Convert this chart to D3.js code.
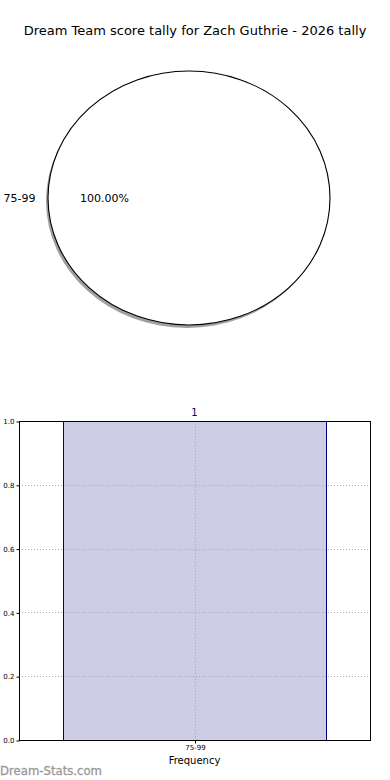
<!DOCTYPE html>
<html>
<head>
<meta charset="utf-8">
<script src="https://cdn.jsdelivr.net/npm/d3@7"></script>
<style>
  body { margin: 0; background: #fff; }
  svg { display: block; font-family: "DejaVu Sans", sans-serif; }
</style>
</head>
<body>
<div id="chart"></div>
<script>
var title = "Dream Team score tally for Zach Guthrie - 2026 tally";
var categories = ["75-99"];
var counts = [1];
var yTicks = [0.0, 0.2, 0.4, 0.6, 0.8, 1.0];

var width = 390, height = 780;
var svg = d3.select("#chart").append("svg")
    .attr("width", width)
    .attr("height", height);

svg.append("text")
    .attr("x", 195)
    .attr("y", 35)
    .attr("text-anchor", "middle")
    .attr("font-size", 13)
    .attr("fill", "#000")
    .text(title);

// pie (stretched into an ellipse), wedges start at 3 o'clock going counterclockwise
var total = d3.sum(counts);
var pie = d3.pie().sort(null)(counts);
var arc = d3.arc().innerRadius(0).outerRadius(1);
var cx = 189, cy = 198, rx = 141, ry = 127;

var shadow = svg.append("g")
    .attr("transform", "translate(" + (cx - 2) + "," + (cy + 3) + ")");
shadow.selectAll("path").data(pie).enter().append("path")
    .attr("d", arc)
    .attr("transform", "scale(" + rx + "," + ry + ")")
    .attr("fill", "#888")
    .attr("opacity", 0.8);

var pg = svg.append("g")
    .attr("transform", "translate(" + cx + "," + cy + ")");
pg.selectAll("path").data(pie).enter().append("path")
    .attr("d", arc)
    .attr("transform", "scale(" + rx + "," + ry + ")")
    .attr("fill", "#fff")
    .attr("stroke", "#000")
    .attr("stroke-width", 1 / ry);

pie.forEach(function(d, i) {
    // matplotlib angle convention: 0 at right, counterclockwise
    var mid = (d.startAngle + d.endAngle) / 2;
    var cosA = Math.cos(mid), sinA = Math.sin(mid);
    svg.append("text")
        .attr("x", cx + cosA * rx * 1.1 + 1.5)
        .attr("y", cy - sinA * ry * 1.1 + 4)
        .attr("text-anchor", cosA < 0 ? "end" : "start")
        .attr("font-size", 11)
        .text(categories[i]);
    svg.append("text")
        .attr("x", cx + cosA * rx * 0.6)
        .attr("y", cy - sinA * ry * 0.6 + 4)
        .attr("text-anchor", "middle")
        .attr("font-size", 11)
        .text((counts[i] / total * 100).toFixed(2) + "%");
});

// bar chart
var pLeft = 19, pRight = 370, pTop = 421, pBottom = 740;
var x = d3.scaleLinear().domain([-0.532, 0.532]).range([pLeft, pRight]);
var y = d3.scaleLinear().domain([0, 1]).range([pBottom, pTop]);
var barW = 0.8;

svg.selectAll("rect.bar").data(counts).enter().append("rect")
    .attr("class", "bar")
    .attr("x", function(d, i) { return Math.round(x(i - barW / 2)) + 0.5; })
    .attr("y", function(d) { return Math.round(y(d)) + 0.5; })
    .attr("width", function(d, i) { return Math.round(x(i + barW / 2)) - Math.round(x(i - barW / 2)); })
    .attr("height", function(d) { return Math.round(y(0)) - Math.round(y(d)); })
    .attr("fill", "#ccccE5")
    .attr("stroke", "#000080")
    .attr("stroke-width", 1);

var grid = svg.append("g").attr("stroke", "#aaa").attr("stroke-dasharray", "1,2");
yTicks.forEach(function(t) {
    grid.append("line")
        .attr("x1", pLeft).attr("x2", pRight)
        .attr("y1", Math.round(y(t)) + 0.5).attr("y2", Math.round(y(t)) + 0.5);
});
categories.forEach(function(c, i) {
    grid.append("line")
        .attr("x1", Math.round(x(i)) + 0.5).attr("x2", Math.round(x(i)) + 0.5)
        .attr("y1", pTop).attr("y2", pBottom);
});

svg.selectAll("text.cnt").data(counts).enter().append("text")
    .attr("class", "cnt")
    .attr("x", function(d, i) { return x(i); })
    .attr("y", pTop - 5)
    .attr("text-anchor", "middle")
    .attr("font-size", 10)
    .attr("fill", "#000080")
    .text(function(d) { return d; });

svg.append("rect")
    .attr("x", pLeft + 0.5).attr("y", pTop + 0.5)
    .attr("width", pRight - pLeft).attr("height", pBottom - pTop)
    .attr("fill", "none").attr("stroke", "#000");

var yAxis = d3.axisLeft(y).tickValues(yTicks).tickFormat(d3.format(".1f"))
    .tickSize(3).tickPadding(2);
svg.append("g")
    .attr("transform", "translate(" + (pLeft + 0.5) + ",0.5)")
    .call(yAxis)
    .call(function(g) {
        g.select(".domain").remove();
        g.selectAll("text").attr("font-size", 7).attr("font-family", "DejaVu Sans");
    });

var xAxis = d3.axisBottom(x).tickValues(categories.map(function(c, i) { return i; }))
    .tickFormat(function(d) { return categories[d]; })
    .tickSize(3).tickPadding(2);
svg.append("g")
    .attr("transform", "translate(0.5," + (pBottom + 0.5) + ")")
    .call(xAxis)
    .call(function(g) {
        g.select(".domain").remove();
        g.selectAll("text").attr("font-size", 7).attr("font-family", "DejaVu Sans");
    });

svg.append("text")
    .attr("x", x(0))
    .attr("y", 764)
    .attr("text-anchor", "middle")
    .attr("font-size", 10)
    .text("Frequency");

svg.append("text")
    .attr("x", 0)
    .attr("y", 775)
    .attr("font-size", 12)
    .attr("textLength", 102)
    .attr("lengthAdjust", "spacingAndGlyphs")
    .attr("fill", "#999")
    .attr("stroke", "#999")
    .attr("stroke-width", 0.3)
    .text("Dream-Stats.com");
</script>
</body>
</html>
